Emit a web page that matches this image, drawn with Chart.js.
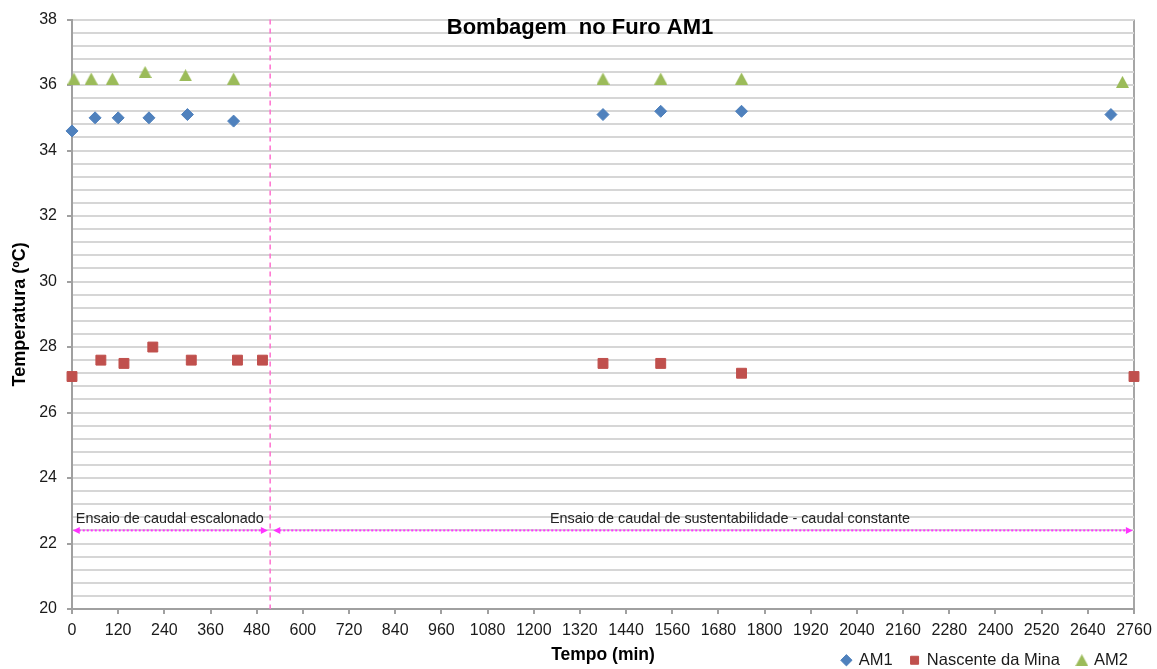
<!DOCTYPE html>
<html lang="pt">
<head>
<meta charset="utf-8">
<title>Bombagem no Furo AM1</title>
<script src="https://cdn.jsdelivr.net/npm/chart.js@4.4.1/dist/chart.umd.min.js"></script>
<style>
  html, body { margin: 0; padding: 0; background: #ffffff; }
  canvas { display: block; }
</style>
</head>
<body>
<canvas id="chart" width="1157" height="669"></canvas>
<script>
// Temperatura (ºC) medida ao longo do tempo (min) em cada ponto de observação
const am1Tempo = [0, 60, 120, 200, 300, 420, 1380, 1530, 1740, 2700];
const am1Temp  = [34.6, 35.0, 35.0, 35.0, 35.1, 34.9, 35.1, 35.2, 35.2, 35.1];

const nascenteTempo = [0, 75, 135, 210, 310, 430, 495, 1380, 1530, 1740, 2760];
const nascenteTemp  = [27.1, 27.6, 27.5, 28.0, 27.6, 27.6, 27.6, 27.5, 27.5, 27.2, 27.1];

const am2Tempo = [5, 50, 105, 190, 295, 420, 1380, 1530, 1740, 2730];
const am2Temp  = [36.2, 36.2, 36.2, 36.4, 36.3, 36.2, 36.2, 36.2, 36.2, 36.1];

const seriesNomes = ['AM1', 'Nascente da Mina', 'AM2'];

// Eixos
const tempoMin = 0, tempoMax = 2760, tempoPasso = 120;
const tempMin = 20, tempMax = 38, tempPassoPrincipal = 2, tempPassoGrelha = 0.4;

// Fases do ensaio
const faseLimite = 515;
const faseNomes = ['Ensaio de caudal escalonado', 'Ensaio de caudal de sustentabilidade - caudal constante'];
const faseInicio = [2, 523];
const faseFim = [509, 2757];
const faseNivel = 22.4;
const faseTextoPos = [10, 1710];

const FONTE = 'Arial, "Liberation Sans", sans-serif';
const AZUL = '#4F81BD', VERMELHO = '#C0504D', VERDE = '#9BBB59';

function pontos(tempos, temps) {
  return tempos.map((t, i) => ({ x: t, y: temps[i] }));
}

// triângulo centrado na sua própria caixa
function triangulo(cor, w, h) {
  const c = document.createElement('canvas');
  c.width = w; c.height = h;
  const g = c.getContext('2d');
  g.fillStyle = cor;
  g.beginPath();
  g.moveTo(w / 2, 0);
  g.lineTo(w, h);
  g.lineTo(0, h);
  g.closePath();
  g.fill();
  return c;
}

function seta(ctx, x1, x2, y) {
  const cor = '#FF33FF';
  ctx.save();
  ctx.strokeStyle = cor;
  ctx.lineWidth = 2;
  ctx.setLineDash([2, 2]);
  ctx.beginPath();
  ctx.moveTo(x1 + 6, y);
  ctx.lineTo(x2 - 6, y);
  ctx.stroke();
  ctx.setLineDash([]);
  ctx.fillStyle = cor;
  ctx.beginPath();
  ctx.moveTo(x1, y); ctx.lineTo(x1 + 7, y - 3.5); ctx.lineTo(x1 + 7, y + 3.5);
  ctx.closePath(); ctx.fill();
  ctx.beginPath();
  ctx.moveTo(x2, y); ctx.lineTo(x2 - 7, y - 3.5); ctx.lineTo(x2 - 7, y + 3.5);
  ctx.closePath(); ctx.fill();
  ctx.restore();
}

const anotacoes = {
  id: 'anotacoes',
  afterLayout(chart) {
    // o eixo X ocupa até ao fundo; a legenda fica na linha do título do eixo, à direita
    const sx = chart.scales.x;
    sx.bottom = chart.height;
    sx.height = sx.bottom - sx.top;
    const lg = chart.legend;
    const pad = lg.options.labels.padding;
    const h = lg.height;
    lg.top = chart.height - 17 - pad;
    lg.bottom = lg.top + h;
    const dx = chart.width - 29 + pad - lg.right;
    lg.left += dx;
    lg.right += dx;
  },
  beforeDatasetsDraw(chart) {
    const { ctx, chartArea, scales } = chart;
    const x = scales.x, y = scales.y;
    // separação entre as fases
    const xl = x.getPixelForValue(faseLimite);
    ctx.save();
    ctx.strokeStyle = '#FF6FCF';
    ctx.lineWidth = 1.5;
    ctx.setLineDash([5, 4]);
    ctx.beginPath();
    ctx.moveTo(xl, chartArea.top);
    ctx.lineTo(xl, chartArea.bottom);
    ctx.stroke();
    ctx.restore();

    const ys = y.getPixelForValue(faseNivel);
    for (let i = 0; i < faseNomes.length; i++) {
      seta(ctx, x.getPixelForValue(faseInicio[i]), x.getPixelForValue(faseFim[i]), ys);
      ctx.save();
      ctx.font = '14.4px ' + FONTE;
      ctx.fillStyle = '#222222';
      ctx.textAlign = i === 0 ? 'left' : 'center';
      ctx.textBaseline = 'alphabetic';
      ctx.fillText(faseNomes[i], x.getPixelForValue(faseTextoPos[i]), ys - 7);
      ctx.restore();
    }
  },
  afterDraw(chart) {
    const { ctx, chartArea } = chart;
    ctx.save();
    ctx.fillStyle = '#000000';
    ctx.textAlign = 'center';
    ctx.textBaseline = 'alphabetic';
    ctx.font = 'bold 22px ' + FONTE;
    ctx.fillText('Bombagem  no Furo AM1', 580, chartArea.top + 14);
    ctx.font = 'bold 17.5px ' + FONTE;
    ctx.fillText('Tempo (min)', (chartArea.left + chartArea.right) / 2, chart.height - 9);
    ctx.restore();
  }
};

const trianguloVerde = triangulo(VERDE, 13, 12);

new Chart(document.getElementById('chart'), {
  type: 'scatter',
  data: {
    datasets: [
      {
        label: seriesNomes[0],
        data: pontos(am1Tempo, am1Temp),
        pointStyle: 'rectRot',
        pointRadius: 6,
        pointHoverRadius: 6,
        backgroundColor: AZUL,
        borderColor: AZUL,
        borderWidth: 1,
        clip: false
      },
      {
        label: seriesNomes[1],
        data: pontos(nascenteTempo, nascenteTemp),
        pointStyle: 'rect',
        pointRadius: 7,
        pointHoverRadius: 7,
        backgroundColor: VERMELHO,
        borderColor: VERMELHO,
        borderWidth: 1,
        clip: false
      },
      {
        label: seriesNomes[2],
        data: pontos(am2Tempo, am2Temp),
        pointStyle: trianguloVerde,
        pointRadius: 7,
        pointHoverRadius: 7,
        backgroundColor: VERDE,
        borderColor: VERDE,
        borderWidth: 0,
        clip: false
      }
    ]
  },
  options: {
    responsive: false,
    animation: false,
    devicePixelRatio: 1,
    events: [],
    layout: { padding: { left: 0, right: 23, top: 19, bottom: 0 } },
    plugins: {
      title: { display: false },
      tooltip: { enabled: false },
      legend: {
        display: true,
        position: 'bottom',
        align: 'end',
        labels: {
          usePointStyle: true,
          boxWidth: 8,
          boxHeight: 8,
          padding: 18,
          color: '#1a1a1a',
          font: { family: FONTE, size: 16.5 }
        }
      }
    },
    scales: {
      x: {
        type: 'linear',
        min: tempoMin,
        max: tempoMax,
        afterFit(s) {
          s.height = Math.max(0, 60 - s.chart.legend.height);
          s.paddingLeft = 0;
          s.paddingRight = 0;
        },
        ticks: {
          stepSize: tempoPasso,
          autoSkip: false,
          maxRotation: 0,
          padding: 7,
          color: '#1a1a1a',
          font: { family: FONTE, size: 16 },
          callback: (v) => String(v)
        },
        grid: {
          drawTicks: true,
          tickLength: 5,
          lineWidth: 2,
          color: (c) => (c.tick && c.tick.value === tempoMax ? '#A6A6A6' : 'rgba(0,0,0,0)'),
          tickColor: '#A0A0A0'
        },
        border: { display: true, color: '#A0A0A0', width: 2 }
      },
      y: {
        type: 'linear',
        min: tempMin,
        max: tempMax,
        afterFit(s) { s.width = 72; },
        ticks: {
          stepSize: tempPassoGrelha,
          autoSkip: false,
          padding: 10,
          color: '#1a1a1a',
          font: { family: FONTE, size: 16 },
          callback: (v) => {
            const k = v / tempPassoPrincipal;
            return Math.abs(k - Math.round(k)) < 1e-6 ? String(Math.round(v)) : '';
          }
        },
        grid: {
          drawTicks: true,
          tickLength: 5,
          lineWidth: 2,
          color: '#D6D6D6',
          tickColor: (c) => {
            const k = c.tick ? c.tick.value / tempPassoPrincipal : 0.5;
            return Math.abs(k - Math.round(k)) < 1e-6 ? '#A0A0A0' : 'rgba(0,0,0,0)';
          }
        },
        border: { display: true, color: '#A0A0A0', width: 2 },
        title: {
          display: true,
          text: 'Temperatura (ºC)',
          color: '#000000',
          font: { family: FONTE, size: 18, weight: 'bold' },
          padding: { top: 9, bottom: 0 }
        }
      }
    }
  },
  plugins: [anotacoes]
});
</script>
</body>
</html>
